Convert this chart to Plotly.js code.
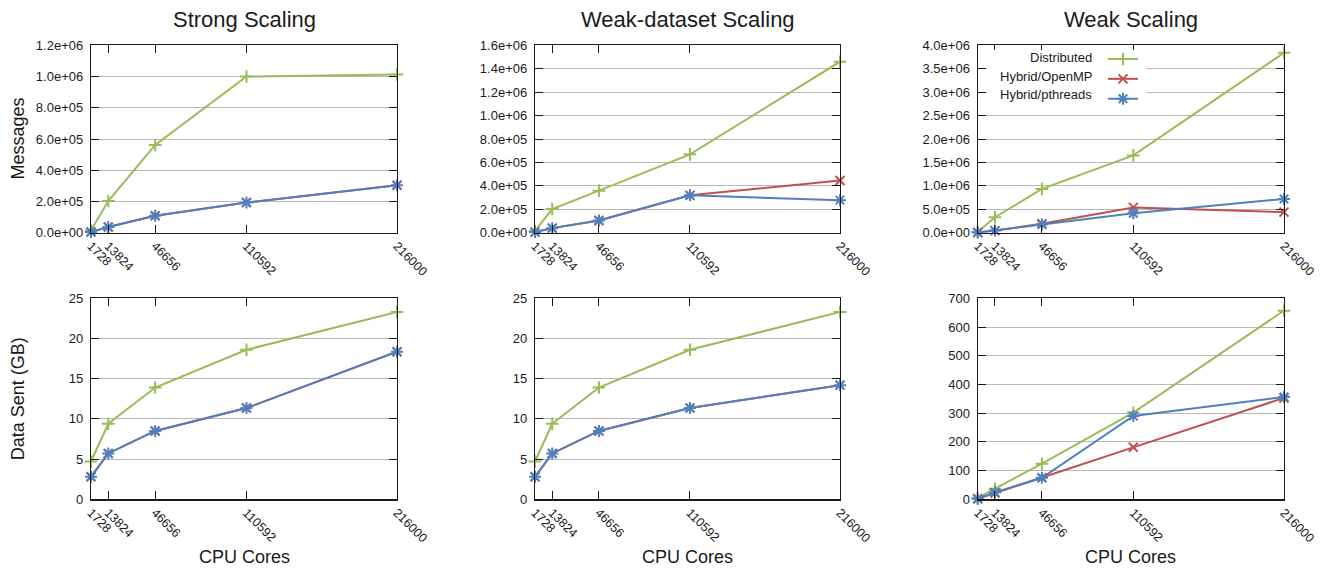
<!DOCTYPE html>
<html>
<head>
<meta charset="utf-8">
<script src="https://cdn.plot.ly/plotly-3.0.1.min.js"></script>
<style>
html,body{margin:0;padding:0;background:#fff;}
#chart{width:1323px;height:568px;}
</style>
</head>
<body>
<div id="chart"></div>
<script>
// ---------- data ----------
const cores = [1728, 13824, 46656, 110592, 216000];
const coreLabels = ["1728", "13824", "46656", "110592", "216000"];

const seriesNames = ["Distributed", "Hybrid/OpenMP", "Hybrid/pthreads"];
const seriesColors = ["#9BBB59", "#C0504D", "#4F81BD"];
const seriesSymbols = ["cross-thin-open", "x-thin-open", "asterisk-open"];

const panelTitles = ["Strong Scaling", "Weak-dataset Scaling", "Weak Scaling"];

// Messages (top row)
const strongMsgDistributed = [1.5e4, 2.03e5, 5.62e5, 1.0e6, 1.013e6];
const strongMsgOpenMP      = [5e3, 3.6e4, 1.08e5, 1.93e5, 3.04e5];
const strongMsgPthreads    = [5e3, 3.6e4, 1.08e5, 1.93e5, 3.04e5];

const wdMsgDistributed = [1.5e4, 2.02e5, 3.59e5, 6.69e5, 1.46e6];
const wdMsgOpenMP      = [5e3, 3.9e4, 1.04e5, 3.19e5, 4.45e5];
const wdMsgPthreads    = [5e3, 3.9e4, 1.04e5, 3.19e5, 2.78e5];

const weakMsgDistributed = [1.5e4, 3.3e5, 9.35e5, 1.65e6, 3.84e6];
const weakMsgOpenMP      = [5e3, 4.5e4, 1.9e5, 5.4e5, 4.4e5];
const weakMsgPthreads    = [5e3, 4.5e4, 1.75e5, 4.15e5, 7.2e5];

// Data sent in GB (bottom row)
const strongGbDistributed = [4.7, 9.4, 13.9, 18.6, 23.3];
const strongGbOpenMP      = [2.8, 5.7, 8.5, 11.35, 18.35];
const strongGbPthreads    = [2.8, 5.7, 8.5, 11.35, 18.35];

const wdGbDistributed = [4.7, 9.4, 13.9, 18.6, 23.3];
const wdGbOpenMP      = [2.8, 5.7, 8.5, 11.35, 14.2];
const wdGbPthreads    = [2.8, 5.7, 8.5, 11.35, 14.2];

const weakGbDistributed = [5, 37, 124, 302, 657];
const weakGbOpenMP      = [2, 22, 75, 181, 353];
const weakGbPthreads    = [2, 24, 75, 290, 356];

// y tick values / labels
const msgTicks12 = [0, 2e5, 4e5, 6e5, 8e5, 1e6, 1.2e6];
const msgLabels12 = ["0.0e+00","2.0e+05","4.0e+05","6.0e+05","8.0e+05","1.0e+06","1.2e+06"];
const msgTicks16 = [0, 2e5, 4e5, 6e5, 8e5, 1e6, 1.2e6, 1.4e6, 1.6e6];
const msgLabels16 = ["0.0e+00","2.0e+05","4.0e+05","6.0e+05","8.0e+05","1.0e+06","1.2e+06","1.4e+06","1.6e+06"];
const msgTicks40 = [0, 5e5, 1e6, 1.5e6, 2e6, 2.5e6, 3e6, 3.5e6, 4e6];
const msgLabels40 = ["0.0e+00","5.0e+05","1.0e+06","1.5e+06","2.0e+06","2.5e+06","3.0e+06","3.5e+06","4.0e+06"];
const gbTicks25 = [0, 5, 10, 15, 20, 25];
const gbLabels25 = ["0","5","10","15","20","25"];
const gbTicks700 = [0, 100, 200, 300, 400, 500, 600, 700];
const gbLabels700 = ["0","100","200","300","400","500","600","700"];

const yTitles = ["Messages", "Data Sent (GB)"];
const xTitle = "CPU Cores";

// ---------- layout helpers ----------
const W = 1323, H = 568;
const FONT = "Liberation Sans, Arial, Helvetica, sans-serif";
const INK = "#1a1a1a";
const colPx = [[91, 397], [535, 840], [977.7, 1284]];
const rowPx = [[45.3, 232.7], [298.3, 499.3]];

const panels = [
  {row:0, col:0, series:[strongMsgDistributed, strongMsgOpenMP, strongMsgPthreads], range:[0,1.2e6], tv:msgTicks12, tt:msgLabels12},
  {row:0, col:1, series:[wdMsgDistributed, wdMsgOpenMP, wdMsgPthreads], range:[0,1.6e6], tv:msgTicks16, tt:msgLabels16},
  {row:0, col:2, series:[weakMsgDistributed, weakMsgOpenMP, weakMsgPthreads], range:[0,4e6], tv:msgTicks40, tt:msgLabels40, legend:true},
  {row:1, col:0, series:[strongGbDistributed, strongGbOpenMP, strongGbPthreads], range:[0,25], tv:gbTicks25, tt:gbLabels25},
  {row:1, col:1, series:[wdGbDistributed, wdGbOpenMP, wdGbPthreads], range:[0,25], tv:gbTicks25, tt:gbLabels25},
  {row:1, col:2, series:[weakGbDistributed, weakGbOpenMP, weakGbPthreads], range:[0,700], tv:gbTicks700, tt:gbLabels700}
];

const traces = [];
const layout = {
  width: W, height: H,
  margin: {l:0, r:0, t:0, b:0},
  paper_bgcolor: "#fff", plot_bgcolor: "#fff",
  font: {family: FONT, color: INK, size: 13},
  showlegend: true,
  legend: {
    x: 1103/W, xanchor: "left", y: 1 - 44/H, yanchor: "top",
    bgcolor: "rgba(0,0,0,0)", borderwidth: 0, tracegroupgap: 0,
    font: {family: FONT, size: 13, color: INK},
    itemclick: false, itemdoubleclick: false
  },
  annotations: [],
  shapes: []
};

panels.forEach((p, i) => {
  const n = i + 1;
  const xa = n === 1 ? "x" : "x" + n;
  const ya = n === 1 ? "y" : "y" + n;
  const xKey = n === 1 ? "xaxis" : "xaxis" + n;
  const yKey = n === 1 ? "yaxis" : "yaxis" + n;
  const cx = colPx[p.col], ry = rowPx[p.row];
  layout[xKey] = {
    domain: [cx[0]/W, cx[1]/W], anchor: ya,
    range: [cores[0], cores[cores.length-1]],
    tickmode: "array", tickvals: cores, ticktext: coreLabels,
    tickangle: 45, tickfont: {family: FONT, size: 12.5, color: INK},
    showline: true, mirror: "ticks", linecolor: INK, linewidth: 1.2,
    ticks: "inside", ticklen: 8, tickwidth: 1, tickcolor: INK,
    showgrid: false, zeroline: false, fixedrange: true
  };
  layout[yKey] = {
    domain: [1 - ry[1]/H, 1 - ry[0]/H], anchor: xa,
    range: p.range,
    tickmode: "array", tickvals: p.tv, ticktext: p.tt,
    tickfont: {family: FONT, size: 13, color: INK},
    ticklabelstandoff: 4,
    showline: true, mirror: "ticks", linecolor: INK, linewidth: 1.2,
    ticks: "inside", ticklen: 8, tickwidth: 1, tickcolor: INK,
    showgrid: true, gridcolor: "#b8b8b8", gridwidth: 1,
    zeroline: false, fixedrange: true
  };
  p.series.forEach((vals, s) => {
    traces.push({
      type: "scatter", mode: "lines+markers",
      x: cores, y: vals, xaxis: xa, yaxis: ya,
      name: p.legend ? " " : seriesNames[s],
      showlegend: !!p.legend,
      cliponaxis: false,
      line: {color: seriesColors[s], width: 2},
      marker: {symbol: seriesSymbols[s], size: s === 2 ? 10 : 9,
               color: seriesColors[s], line: {color: seriesColors[s], width: 2}},
      hoverinfo: "x+y+name"
    });
  });
  // titles
  const xc = (cx[0] + cx[1]) / 2 / W;
  if (p.row === 0) {
    layout.annotations.push({text: panelTitles[p.col], xref: "paper", yref: "paper",
      x: xc, y: 1 - 20/H, xanchor: "center", yanchor: "middle", showarrow: false,
      font: {family: FONT, size: 22, color: INK}});
  } else {
    layout.annotations.push({text: xTitle, xref: "paper", yref: "paper",
      x: xc, y: 1 - 557/H, xanchor: "center", yanchor: "middle", showarrow: false,
      font: {family: FONT, size: 18, color: INK}});
  }
  if (p.col === 0) {
    layout.annotations.push({text: yTitles[p.row], xref: "paper", yref: "paper",
      x: 17.5/W, y: 1 - ((ry[0] + ry[1]) / 2)/H, xanchor: "center", yanchor: "middle",
      textangle: -90, showarrow: false, font: {family: FONT, size: 18, color: INK}});
  }
  if (p.legend) {
    // white key background (hides gridlines behind the key)
    layout.shapes.push({type: "rect", xref: "paper", yref: "paper",
      x0: 987/W, x1: 1146/W, y0: 1 - 104/H, y1: 1 - 50/H,
      fillcolor: "#fff", line: {width: 0}});
    const rowsY = [57, 76, 95];
    seriesNames.forEach((nm, s) => {
      layout.annotations.push({text: nm, xref: "paper", yref: "paper",
        x: 1094/W, y: 1 - rowsY[s]/H, xanchor: "right", yanchor: "middle",
        showarrow: false, font: {family: FONT, size: 13, color: INK}});
    });
  }
});

Plotly.newPlot("chart", traces, layout, {staticPlot: true, displayModeBar: false});
</script>
</body>
</html>
